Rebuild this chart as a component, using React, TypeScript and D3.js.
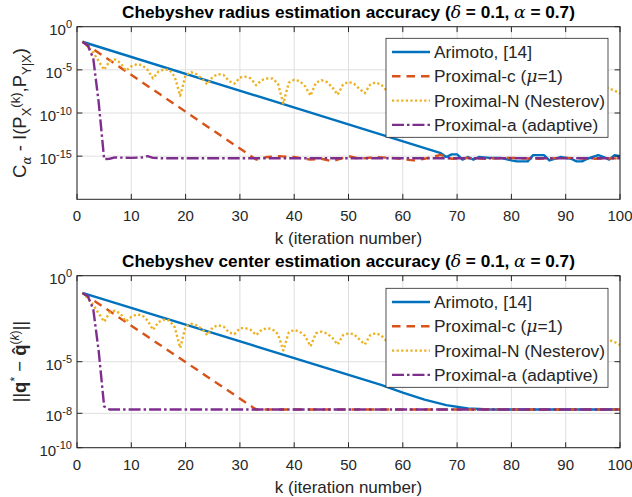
import React from 'react';
import * as d3 from 'd3';

const FONT = '"Liberation Sans", Arial, Helvetica, sans-serif';
const INK = '#262626';

// x axis
const xTicks = [0, 10, 20, 30, 40, 50, 60, 70, 80, 90, 100];

// y tick exponents
const topYTickExps = [0, -5, -10, -15];
const bottomYTickExps = [0, -5, -8, -10];

const seriesNames = ['Arimoto, [14]', 'Proximal-c', 'Proximal-N (Nesterov)', 'Proximal-a (adaptive)'];
const seriesColors = ['#0072BD', '#D95319', '#EDB120', '#7E2F8E'];
const seriesDash = ['none', '8.5,6', '2.2,2.4', '12,3,2.5,3'];

// ---- top panel: C_alpha - I(...) ----
const arimotoTopK = [1, 67, 68, 69, 70, 71, 72, 73, 74, 76, 78, 80, 81, 83, 84, 86, 87, 89, 91, 92, 93, 94, 96, 97, 98, 99, 100];
const arimotoTopV = [1.8e-2, 2.2e-15, 7.9e-16, 1.6e-15, 1.6e-15, 4.0e-16, 7.9e-16, 4.0e-16, 7.9e-16, 6.3e-16, 6.3e-16, 3.2e-16, 2.5e-16, 2.5e-16, 1.3e-15, 1.3e-15, 3.2e-16, 7.9e-16, 5.0e-16, 2.5e-16, 2.5e-16, 5.0e-16, 1.3e-15, 7.9e-16, 4.0e-16, 1.3e-15, 1.0e-15];

const proxCTopK = [1, 33, 35, 37, 40, 43, 45, 47, 50, 52, 55, 58, 62, 64, 67, 69, 72, 75, 80, 85, 90, 95, 100];
const proxCTopV = [1.8e-2, 4.0e-16, 7.9e-16, 1.0e-15, 7.9e-16, 4.0e-16, 5.0e-16, 2.5e-16, 1.0e-15, 5.0e-16, 7.9e-16, 6.3e-16, 3.2e-16, 5.0e-16, 1.4e-15, 5.0e-16, 6.3e-16, 5.0e-16, 6.3e-16, 5.0e-16, 6.3e-16, 5.0e-16, 5.6e-16];

const proxNTopK = [1, 2, 3, 4, 5, 6, 7, 8, 9, 10, 11, 12, 13, 14, 15, 16, 17, 18, 19, 20, 21, 22, 23, 24, 25, 26, 27, 28, 29, 30, 31, 32, 33, 34, 35, 36, 37, 38, 39, 40, 41, 42, 43, 44, 45, 46, 47, 48, 49, 50, 51, 52, 53, 54, 55, 56, 57, 60, 63, 65, 68, 70, 73, 75, 78, 80, 83, 85, 88, 90, 93, 95, 97, 98, 99, 100];
const proxNTopV = [1.8e-2, 5.0e-3, 1.0e-3, 1.0e-4, 1.0e-5, 1.0e-4, 1.6e-4, 6.3e-5, 7.9e-6, 2.5e-5, 4.5e-5, 3.5e-5, 1.0e-5, 1.0e-6, 6.3e-6, 1.1e-5, 1.0e-5, 1.6e-6, 1.0e-8, 2.5e-6, 5.6e-6, 3.2e-6, 1.0e-6, 2.0e-7, 1.6e-6, 3.2e-6, 2.5e-6, 5.0e-7, 2.5e-7, 1.3e-6, 1.6e-6, 1.0e-6, 1.6e-7, 6.3e-7, 1.0e-6, 1.0e-6, 2.5e-7, 1.3e-9, 3.2e-7, 7.1e-7, 5.0e-7, 1.3e-7, 1.0e-8, 3.2e-7, 6.3e-7, 4.0e-7, 1.0e-7, 1.3e-8, 2.0e-7, 4.0e-7, 2.5e-7, 6.3e-8, 2.0e-8, 2.0e-7, 3.5e-7, 2.0e-7, 4.0e-8, 2.5e-7, 6.3e-9, 2.0e-7, 1.3e-8, 1.6e-7, 1.0e-8, 1.6e-7, 3.2e-9, 1.3e-7, 1.0e-8, 1.3e-7, 6.3e-9, 1.0e-7, 1.0e-8, 1.0e-7, 1.0e-7, 6.8e-8, 4.0e-8, 1.8e-8];

const proxATopK = [1, 2, 3, 4, 5, 6, 7, 10, 12, 13, 14, 16, 100];
const proxATopV = [1.8e-2, 6.3e-3, 2.0e-4, 1.6e-9, 4.5e-16, 5.0e-16, 7.1e-16, 6.3e-16, 7.1e-16, 1.0e-15, 6.3e-16, 5.6e-16, 5.6e-16];

// ---- bottom panel: ||q* - q^(k)|| ----
const arimotoBotK = [1, 56, 60, 64, 68, 72, 76, 100];
const arimotoBotV = [1.0e-1, 4.5e-7, 1.6e-7, 6.3e-8, 3.0e-8, 1.9e-8, 1.66e-8, 1.66e-8];

const proxCBotK = [1, 33, 100];
const proxCBotV = [1.0e-1, 1.66e-8, 1.66e-8];

const proxNBotK = [1, 2, 3, 4, 5, 6, 7, 8, 9, 10, 11, 12, 13, 14, 15, 16, 17, 18, 19, 20, 21, 22, 23, 24, 25, 26, 27, 28, 29, 30, 31, 32, 33, 34, 35, 36, 37, 38, 39, 40, 41, 42, 43, 44, 45, 46, 47, 48, 49, 50, 51, 52, 53, 54, 55, 56, 57, 60, 63, 65, 68, 70, 73, 75, 78, 80, 83, 85, 88, 90, 93, 95, 97, 98, 99, 100];
const proxNBotV = [1.0e-1, 5.0e-2, 2.0e-2, 6.3e-3, 2.1e-3, 7.1e-3, 9.3e-3, 6.3e-3, 2.2e-3, 4.0e-3, 5.6e-3, 5.0e-3, 2.5e-3, 7.1e-4, 2.0e-3, 2.8e-3, 2.5e-3, 1.0e-3, 6.3e-5, 1.1e-3, 1.6e-3, 1.3e-3, 7.9e-4, 3.5e-4, 1.0e-3, 1.3e-3, 1.1e-3, 5.0e-4, 4.0e-4, 8.9e-4, 8.9e-4, 7.1e-4, 3.5e-4, 7.1e-4, 8.9e-4, 7.9e-4, 4.0e-4, 4.5e-5, 5.0e-4, 7.1e-4, 5.6e-4, 3.2e-4, 7.9e-5, 4.5e-4, 5.6e-4, 4.5e-4, 2.5e-4, 1.0e-4, 3.5e-4, 4.5e-4, 4.0e-4, 2.0e-4, 1.0e-4, 3.5e-4, 4.5e-4, 3.5e-4, 1.6e-4, 4.0e-4, 7.9e-5, 3.5e-4, 1.0e-4, 3.2e-4, 6.3e-5, 3.2e-4, 5.0e-5, 2.8e-4, 1.0e-4, 2.8e-4, 7.9e-5, 2.5e-4, 1.0e-4, 2.5e-4, 2.5e-4, 1.8e-4, 1.4e-4, 9.3e-5];

const proxABotK = [1, 2, 3, 4, 5, 6, 100];
const proxABotV = [1.0e-1, 6.3e-2, 1.1e-2, 4.0e-5, 2.5e-8, 1.66e-8, 1.66e-8];

const X0 = 77;
const X1 = 620;
const TICK = 5.4;

type Series = { k: number[]; v: number[] };

function LegendLabel({ i }: { i: number }) {
  if (i === 1) {
    return (
      <>
        {'Proximal-c ('}
        <tspan fontStyle="italic" fontFamily="DejaVu Serif, serif">μ</tspan>
        {'=1)'}
      </>
    );
  }
  return <>{seriesNames[i]}</>;
}

function Panel({
  top, bottom, yMin, yTickExps, series, title, yLabel, legendTop,
}: {
  top: number; bottom: number; yMin: number; yTickExps: number[]; series: Series[];
  title: React.ReactNode; yLabel: React.ReactNode; legendTop: number;
}) {
  const x = d3.scaleLinear().domain([0, 100]).range([X0, X1]);
  const y = d3.scaleLog().domain([yMin, 1]).range([bottom, top]);
  const line = d3.line<[number, number]>().x(d => x(d[0])).y(d => y(d[1]));
  const midX = (X0 + X1) / 2;
  const midY = (top + bottom) / 2;
  const legW = 222;
  const legH = 99;
  const legX = 386;

  return (
    <g fontFamily={FONT} fill={INK}>
      {/* grid */}
      {xTicks.map(t => (
        <line key={'gx' + t} x1={x(t)} x2={x(t)} y1={top} y2={bottom} stroke="#dfdfdf" strokeWidth={1} />
      ))}
      {yTickExps.map(e => (
        <line key={'gy' + e} x1={X0} x2={X1} y1={y(10 ** e)} y2={y(10 ** e)} stroke="#dfdfdf" strokeWidth={1} />
      ))}

      {/* data */}
      {series.map((s, i) => (
        <path
          key={'s' + i}
          d={line(s.k.map((k, j) => [k, s.v[j]] as [number, number])) || ''}
          fill="none"
          stroke={seriesColors[i]}
          strokeWidth={2.4}
          strokeDasharray={seriesDash[i]}
          strokeLinejoin="round"
        />
      ))}

      {/* box */}
      <rect x={X0} y={top} width={X1 - X0} height={bottom - top} fill="none" stroke={INK} strokeWidth={1} />

      {/* ticks */}
      {xTicks.map(t => (
        <g key={'tx' + t}>
          <line x1={x(t)} x2={x(t)} y1={bottom} y2={bottom - TICK} stroke={INK} />
          <line x1={x(t)} x2={x(t)} y1={top} y2={top + TICK} stroke={INK} />
          <text x={x(t)} y={bottom + 22} textAnchor="middle" fontSize={15}>{t}</text>
        </g>
      ))}
      {yTickExps.map(e => (
        <g key={'ty' + e}>
          <line x1={X0} x2={X0 + TICK} y1={y(10 ** e)} y2={y(10 ** e)} stroke={INK} />
          <line x1={X1} x2={X1 - TICK} y1={y(10 ** e)} y2={y(10 ** e)} stroke={INK} />
          <text x={72} y={y(10 ** e) + 8} textAnchor="end" fontSize={15}>
            10<tspan dy={-6.5} fontSize={11}>{e}</tspan>
          </text>
        </g>
      ))}

      {/* labels */}
      <text x={midX} y={bottom + 45} textAnchor="middle" fontSize={17}>k (iteration number)</text>
      <text x={midX} y={top - 9} textAnchor="middle" fontSize={17.2} fontWeight="bold" fill="#000">{title}</text>
      <text transform={`translate(26,${midY}) rotate(-90)`} textAnchor="middle" fontSize={18.5}>{yLabel}</text>

      {/* legend */}
      <rect x={legX} y={legendTop} width={legW} height={legH} fill="#fff" stroke={INK} strokeWidth={0.8} />
      {seriesNames.map((_, i) => {
        const ry = legendTop + 13.7 + i * 24.3;
        return (
          <g key={'lg' + i}>
            <line x1={392} x2={430} y1={ry} y2={ry} stroke={seriesColors[i]} strokeWidth={2.4} strokeDasharray={seriesDash[i]} />
            <text x={434} y={ry + 6} fontSize={17.3}><LegendLabel i={i} /></text>
          </g>
        );
      })}
    </g>
  );
}

export default function App() {
  const topSeries: Series[] = [
    { k: arimotoTopK, v: arimotoTopV },
    { k: proxCTopK, v: proxCTopV },
    { k: proxNTopK, v: proxNTopV },
    { k: proxATopK, v: proxATopV },
  ];
  const bottomSeries: Series[] = [
    { k: arimotoBotK, v: arimotoBotV },
    { k: proxCBotK, v: proxCBotV },
    { k: proxNBotK, v: proxNBotV },
    { k: proxABotK, v: proxABotV },
  ];

  const greek = { fontStyle: 'italic', fontFamily: 'DejaVu Serif, serif', fontWeight: 'normal' } as const;

  const topTitle = (
    <>
      {'Chebyshev radius estimation accuracy ('}
      <tspan {...greek}>δ</tspan>
      {' = 0.1, '}
      <tspan {...greek}>α</tspan>
      {' = 0.7)'}
    </>
  );
  const bottomTitle = (
    <>
      {'Chebyshev center estimation accuracy ('}
      <tspan {...greek}>δ</tspan>
      {' = 0.1, '}
      <tspan {...greek}>α</tspan>
      {' = 0.7)'}
    </>
  );

  const topYLabel = (
    <>
      C<tspan dy={5} fontSize={12} {...greek}>α</tspan>
      <tspan dy={-5}>{' - I(P'}</tspan>
      <tspan dy={5} fontSize={13}>X</tspan>
      <tspan dy={-11} fontSize={13}>(k)</tspan>
      <tspan dy={6}>,P</tspan>
      <tspan dy={5} fontSize={13}>Y|X</tspan>
      <tspan dy={-5}>)</tspan>
    </>
  );
  const bottomYLabel = (
    <>
      ||<tspan fontWeight="bold">q</tspan>
      <tspan dy={-7} fontSize={12}>*</tspan>
      <tspan dy={7}>{' − '}</tspan>
      <tspan fontWeight="bold">q̂</tspan>
      <tspan dy={-7} fontSize={12}>(<tspan fontStyle="italic">k</tspan>)</tspan>
      <tspan dy={7}>||</tspan>
    </>
  );

  return (
    <div style={{ position: 'absolute', left: 0, top: 0, background: '#fff' }}>
      <svg width={632} height={497} viewBox="0 0 632 497">
        <rect width={632} height={497} fill="#fff" />
        <Panel top={26.7} bottom={199.3} yMin={1e-20} yTickExps={topYTickExps} series={topSeries}
          title={topTitle} yLabel={topYLabel} legendTop={38.3} />
        <Panel top={275.7} bottom={447.7} yMin={1e-10} yTickExps={bottomYTickExps} series={bottomSeries}
          title={bottomTitle} yLabel={bottomYLabel} legendTop={288.3} />
      </svg>
    </div>
  );
}
